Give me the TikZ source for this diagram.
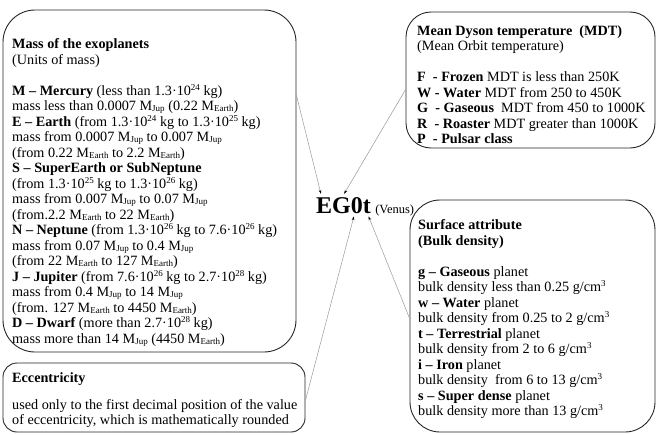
\documentclass[tikz,border=0pt]{standalone}
\usepackage{fontspec}
\setmainfont{Liberation Serif}
\usepackage{tikz}
\usetikzlibrary{positioning,calc,arrows.meta}
\newcommand{\supx}[1]{\raisebox{0.34em}{\fontsize{9}{9}\selectfont #1}}
\newcommand{\subx}[1]{\raisebox{-0.1em}{\fontsize{9}{9}\selectfont #1}}

\begin{document}
\begin{tikzpicture}[x=1pt, y=-1pt,
    % Style of the framed boxes
    infobox/.style={draw=black!85, line width=0.9pt, rounded corners=#1, inner sep=0pt},
    % Style of the texts
    bodytext/.style={align=left, inner sep=0pt, anchor=north west, font=\fontsize{14.2}{15.5}\selectfont},
    codetext/.style={font=\bfseries\fontsize{24}{28}\selectfont, inner sep=3pt, anchor=base west},
    smalltext/.style={font=\fontsize{12.5}{14}\selectfont, inner sep=0pt, anchor=base west},
    % Style of the connectors
    linkarrow/.style={-{Stealth[length=4pt, width=2.6pt, black]}, draw=black!40, line width=0.5pt}
]
    \useasboundingbox (0,0) rectangle (659,434);

    % --- BOXES ---
    \node[infobox=32, minimum width=293pt, minimum height=342pt] (massbox) at (149.5,181) {};
    \node[infobox=14, minimum width=302pt, minimum height=69pt] (eccbox) at (154,397.5) {};
    \node[infobox=25, minimum width=249pt, minimum height=136pt] (mdtbox) at (530.5,80) {};
    \node[infobox=30, minimum width=245pt, minimum height=232pt] (surfbox) at (532.5,316) {};

    % --- TEXTS ---
    % Mass
    \node[bodytext] (masstxt) at (12,38.3) {%
        \textbf{Mass of the exoplanets}\\
        (Units of mass)\\[15.5pt]
        \textbf{M -- Mercury} (less than 1.3·10\supx{24} kg)\\
        mass less than 0.0007 M\subx{Jup} (0.22 M\subx{Earth})\\
        \textbf{E -- Earth} (from 1.3·10\supx{24} kg to 1.3·10\supx{25} kg)\\
        mass from 0.0007 M\subx{Jup} to 0.007 M\subx{Jup}\\
        (from 0.22 M\subx{Earth} to 2.2 M\subx{Earth})\\
        \textbf{S -- SuperEarth or SubNeptune}\\
        (from 1.3·10\supx{25} kg to 1.3·10\supx{26} kg)\\
        mass from 0.007 M\subx{Jup} to 0.07 M\subx{Jup}\\
        (from.2.2 M\subx{Earth} to 22 M\subx{Earth})\\
        \textbf{N -- Neptune} (from 1.3·10\supx{26} kg to 7.6·10\supx{26} kg)\\
        mass from 0.07 M\subx{Jup} to 0.4 M\subx{Jup}\\
        (from 22 M\subx{Earth} to 127 M\subx{Earth})\\
        \textbf{J -- Jupiter} (from 7.6·10\supx{26} kg to 2.7·10\supx{28} kg)\\
        mass from 0.4 M\subx{Jup} to 14 M\subx{Jup}\\
        (from. 127 M\subx{Earth} to 4450 M\subx{Earth})\\
        \textbf{D -- Dwarf} (more than 2.7·10\supx{28} kg)\\
        mass more than 14 M\subx{Jup} (4450 M\subx{Earth})};

    % Eccentricity
    \node[bodytext] (ecctxt) at (12,372.3) {%
        \textbf{Eccentricity}\\[11.5pt]
        used only to the first decimal position of the value\\
        of eccentricity, which is mathematically rounded};

    % Mean Dyson temperature
    \node[bodytext] (mdttxt) at (417,25.3) {%
        \textbf{Mean Dyson temperature\ \ (MDT)}\\
        (Mean Orbit temperature)\\[15.5pt]
        \textbf{F\ \ - Frozen} MDT is less than 250K\\
        \textbf{W - Water} MDT from 250 to 450K\\
        \textbf{G\ \ - Gaseous}\ \ MDT from 450 to 1000K\\
        \textbf{R\ \ - Roaster} MDT greater than 1000K\\
        \textbf{P\ \ - Pulsar class}};

    % Surface attribute
    \node[bodytext] (surftxt) at (418,219.3) {%
        \textbf{Surface attribute}\\
        \textbf{(Bulk density)}\\[15.5pt]
        \textbf{g -- Gaseous} planet\\
        bulk density less than 0.25 g/cm\supx{3}\\
        \textbf{w -- Water} planet\\
        bulk density from 0.25 to 2 g/cm\supx{3}\\
        \textbf{t -- Terrestrial} planet\\
        bulk density from 2 to 6 g/cm\supx{3}\\
        \textbf{i -- Iron} planet\\
        bulk density\ \ from 6 to 13 g/cm\supx{3}\\
        \textbf{s -- Super dense} planet\\
        bulk density more than 13 g/cm\supx{3}};

    % --- CODE ---
    \node[codetext] (code) at (313,213) {EG0t};
    \node[smalltext] (venus) at ($(code.base east)+(1,0)$) {(Venus)};

    % --- CONNECTORS ---
    \draw[linkarrow] ($(massbox.north east)!0.25!(massbox.south east)$) -- ($(code.north west)!0.13!(code.north east)$);
    \draw[linkarrow] ($(mdtbox.north west)!0.57!(mdtbox.south west)$) -- ($(code.north west)!0.51!(code.north east)$);
    \draw[linkarrow] ($(eccbox.north east)!0.54!(eccbox.south east)$) -- ($(code.south west)!0.67!(code.south east)$);
    \draw[linkarrow] ($(surfbox.north west)!0.51!(surfbox.south west)$) -- ($(code.south west)!0.91!(code.south east)$);

\end{tikzpicture}
\end{document}
